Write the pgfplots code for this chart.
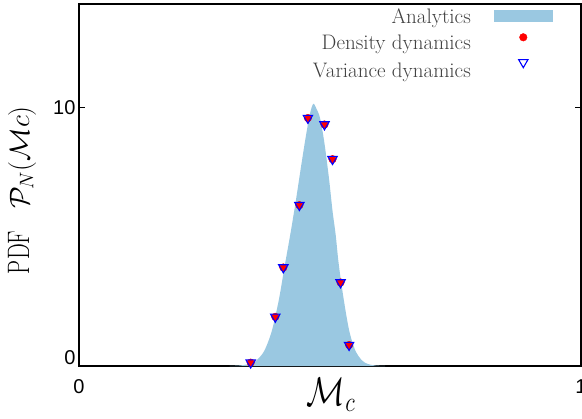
\RequirePackage{fix-cm}
\documentclass[border=0pt]{standalone}
\usepackage{pgfplots}
\pgfplotsset{compat=1.18}
\usepackage{fontspec}
\usepackage{graphicx}
\newfontfamily\tickfont{Liberation Sans}
\definecolor{areablue}{RGB}{154,200,225}
\pgfplotsset{
  dotlegend/.style={legend image code/.code={\draw[##1] plot coordinates {(29.5pt,7.3pt)};}},
  trilegend/.style={legend image code/.code={\draw[##1] plot coordinates {(29.5pt,10.4pt)};}},
  arealegend/.style={legend image code/.code={\fill[areablue] (0pt,-3.4pt) rectangle (59pt,8.3pt);}},
}
\begin{document}
\begin{tikzpicture}
\begin{axis}[
  name=ax,
  scale only axis, width=502pt, height=362pt,
  xmin=0, xmax=1, ymin=0, ymax=14,
  axis line style={line width=1.2pt},
  xtick={0,1}, xticklabels={0,1},
  ytick={0,10}, yticklabels={{\raisebox{16pt}{0}},10},
  ticklabel style={font=\tickfont\fontsize{20}{20}\selectfont},
  xticklabel style={yshift=-10pt},
  xtick style={draw=none},
  ytick pos=both, yticklabel pos=left,
  tick align=inside, ytick style={line width=0.9pt, black}, major tick length=6pt,
  xlabel={\scalebox{0.8}[1]{$\mathcal{M}_c$}},
  xlabel style={font=\fontsize{40}{40}\selectfont, at={(axis description cs:0.502,-0.110)}, anchor=base},
  ylabel={\scalebox{0.72}[1]{PDF}\hspace{22pt}{\fontsize{28}{28}\selectfont$\mathcal{P}_N(\mathcal{M}c)$}},
  ylabel style={font=\fontsize{31}{31}\selectfont, at={(axis description cs:-0.1135,0.486)}, anchor=center},
  legend cell align=right, legend plot pos=right,
  legend style={draw=none, fill=none, at={(0.9442,0.9909)}, anchor=north east,
    font=\fontsize{21}{21}\selectfont, text=black!75, inner sep=0pt, row sep=4.0pt, column sep=22pt,
    nodes={inner sep=1pt, text depth=5pt, text height=15pt}},
]
\addplot[fill=areablue, draw=none, smooth, tension=0.5, arealegend]
  coordinates {
  (0.300,0) (0.320,0.02) (0.335,0.06) (0.347,0.12) (0.358,0.30) (0.370,0.62)
  (0.384,1.35) (0.398,2.55) (0.410,3.90) (0.421,5.10) (0.432,6.40) (0.443,7.80)
  (0.452,8.90) (0.460,9.75) (0.4667,10.14) (0.473,9.95) (0.480,9.60) (0.4886,8.66)
  (0.498,7.25) (0.505,6.00) (0.5114,5.06) (0.517,4.00) (0.5265,2.68) (0.538,1.39)
  (0.550,0.62) (0.563,0.23) (0.575,0.08) (0.590,0.02) (0.610,0)
  } \closedcycle;
\addlegendentry{Analytics}
\addplot[only marks, mark=*, mark size=3.8pt, color=red, dotlegend]
  coordinates {
  (0.342,0.13) (0.391,1.90) (0.407,3.81) (0.439,6.22) (0.456,9.59)
  (0.489,9.34) (0.505,8.00) (0.521,3.23) (0.538,0.81)
  };
\addlegendentry{Density dynamics}
\addplot[only marks, mark=triangle, mark size=5.4pt, color=blue, mark options={rotate=180, line width=1.1pt}, trilegend]
  coordinates {
  (0.342,0.13) (0.391,1.90) (0.407,3.81) (0.439,6.22) (0.456,9.59)
  (0.489,9.34) (0.505,8.00) (0.521,3.23) (0.538,0.81)
  };
\addlegendentry{Variance dynamics}
\end{axis}
\pgfresetboundingbox
\useasboundingbox ([xshift=-79pt,yshift=-52pt]ax.south west) rectangle ([xshift=1pt,yshift=4pt]ax.north east);
\end{tikzpicture}
\end{document}
